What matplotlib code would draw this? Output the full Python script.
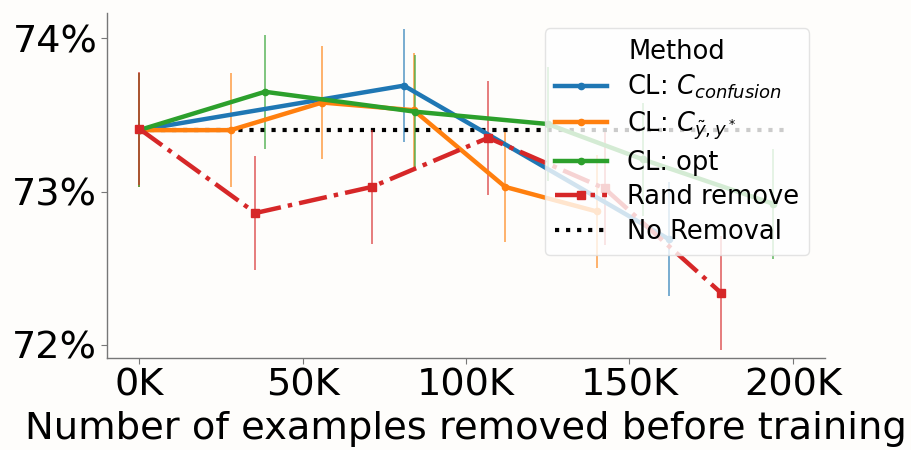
import numpy as np
import matplotlib
matplotlib.use('Agg')
import matplotlib.pyplot as plt
from matplotlib.ticker import FuncFormatter

# number of removed examples (thousands) and top-1 accuracy (%)
conf_x = [0, 81, 162]
conf_y = [73.40, 73.69, 72.69]
conf_err = [0.37, 0.37, 0.37]

yy_x = [0, 28, 56, 84, 112, 140]
yy_y = [73.40, 73.40, 73.58, 73.53, 73.03, 72.87]
yy_err = [0.37, 0.37, 0.37, 0.37, 0.36, 0.37]

opt_x = [0, 38.5, 84.5, 125, 154, 194]
opt_y = [73.40, 73.65, 73.52, 73.44, 73.21, 72.92]
opt_err = [0.37, 0.37, 0.37, 0.37, 0.37, 0.36]

rand_x = [0, 35.6, 71.2, 106.8, 142.4, 178]
rand_y = [73.41, 72.86, 73.03, 73.35, 73.02, 72.34]
rand_err = [0.37, 0.37, 0.37, 0.37, 0.37, 0.37]

base_x = [0, 198]
base_y = [73.40, 73.40]

x_ticks = [0, 50, 100, 150, 200]
y_ticks = [72, 73, 74]

fig = plt.figure(figsize=(9.11, 4.5), dpi=100, facecolor='#fefdfb')
ax = fig.add_axes([0.1175, 0.2044, 0.788, 0.7666], facecolor='#fefdfb')

series = [
    (conf_x, conf_y, conf_err, '#1f77b4', r'CL: $C_{confusion}$', '-', 'o'),
    (yy_x, yy_y, yy_err, '#ff7f0e', r'CL: $C_{\tilde{y},y^*}$', '-', 'o'),
    (opt_x, opt_y, opt_err, '#2ca02c', 'CL: opt', '-', 'o'),
    (rand_x, rand_y, rand_err, '#d62728', 'Rand remove', '-.', 's'),
]
handles = []
for x, y, err, c, lab, ls, mk in series:
    ax.errorbar(x, y, yerr=err, fmt='none', ecolor=c, elinewidth=1.2, alpha=0.7)
for x, y, err, c, lab, ls, mk in series:
    ms = 6 if mk == 's' else 4.5
    h, = ax.plot(x, y, color=c, ls=ls, lw=3.2, marker=mk, ms=ms, label=lab)
    handles.append(h)
h, = ax.plot(base_x, base_y, color='black', ls=':', lw=3, label='No Removal', zorder=1)
handles.append(h)

ax.set_xlim(-9.8, 209.8)
ax.set_ylim(71.915, 74.163)
ax.set_xticks(x_ticks)
ax.set_yticks(y_ticks)
ax.xaxis.set_major_formatter(FuncFormatter(lambda v, p: '%dK' % v))
ax.yaxis.set_major_formatter(FuncFormatter(lambda v, p: '%d%%' % v))
ax.tick_params(labelsize=27.5, length=4, width=0.8, color='#777777', pad=3)
for s in ['top', 'right']:
    ax.spines[s].set_visible(False)
for s in ['left', 'bottom']:
    ax.spines[s].set_color('#777777')
    ax.spines[s].set_linewidth(1)
ax.set_xlabel('Number of examples removed before training', fontsize=27.7, labelpad=5)

leg = ax.legend(handles=handles, title='Method', fontsize=18.5, title_fontsize=18.5,
                loc='upper right', framealpha=0.8, edgecolor='#dddddd',
                labelspacing=0.32, borderaxespad=0.6)

fig.savefig('out.png', dpi=100, facecolor=fig.get_facecolor())
